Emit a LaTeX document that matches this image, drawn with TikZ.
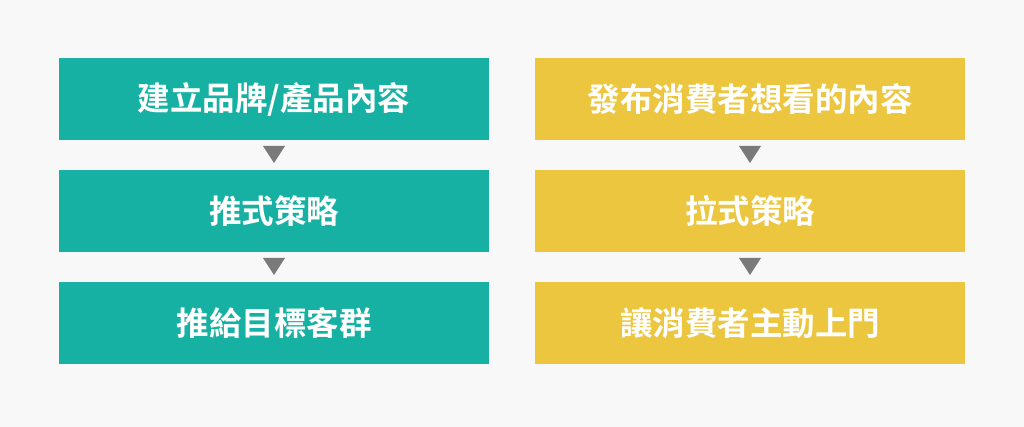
\documentclass[tikz,border=0pt]{standalone}
\usepackage{fontspec}
\newfontfamily\cjk{Noto Sans CJK TC}[BoldFont={Noto Sans CJK TC Bold}]
\definecolor{bgc}{HTML}{F8F8F8}
\definecolor{teal1}{HTML}{17B1A3}
\definecolor{yel1}{HTML}{ECC63F}
\definecolor{arr}{HTML}{7A7A7A}
\tikzset{
  box/.style={minimum width=430pt, minimum height=82pt, inner sep=0pt, text=white,
    font=\cjk\bfseries\fontsize{32.5}{38}\selectfont},
  tbox/.style={box, fill=teal1},
  ybox/.style={box, fill=yel1},
  tri/.style={fill=arr}
}
\begin{document}
\begin{tikzpicture}[x=1pt,y=-1pt]
\fill[bgc] (0,0) rectangle (1024,427);
\useasboundingbox (0,0) rectangle (1024,427);
\node[tbox] (l1) at (274,99) {建立品牌/產品內容};
\node[tbox] (l2) at (274,211) {推式策略};
\node[tbox] (l3) at (274,323) {推給目標客群};
\node[ybox] (r1) at (750,99) {發布消費者想看的內容};
\node[ybox] (r2) at (750,211) {拉式策略};
\node[ybox] (r3) at (750,323) {讓消費者主動上門};
\foreach \a/\b in {l1/l2,l2/l3,r1/r2,r2/r3}{
  \path (\a.south) -- (\b.north) coordinate[pos=0.5] (m\a);
  \fill[tri] ([shift={(-11,-9)}]m\a) -- ([shift={(11,-9)}]m\a) -- ([shift={(0,8)}]m\a) -- cycle;
}
\end{tikzpicture}
\end{document}
